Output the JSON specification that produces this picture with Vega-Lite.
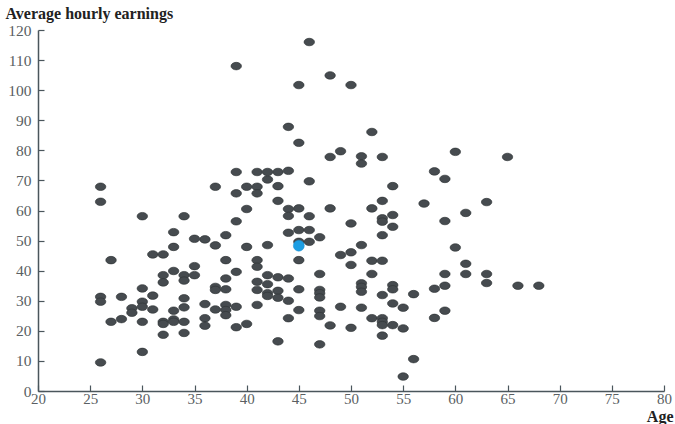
{
  "$schema": "https://vega.github.io/schema/vega-lite/v6.json",
  "width": 626,
  "height": 361,
  "autosize": "none",
  "padding": {"left": 38, "top": 30, "right": 11, "bottom": 33},
  "background": "white",
  "config": {"view": {"stroke": null}},
  "data": {"values": [
    {"age":26,"earnings":67.9,"group":"all"},{"age":26,"earnings":62.9,"group":"all"},{"age":26,"earnings":31.3,"group":"all"},{"age":26,"earnings":29.7,"group":"all"},{"age":26,"earnings":9.5,"group":"all"},
    {"age":27,"earnings":43.5,"group":"all"},{"age":27,"earnings":23.0,"group":"all"},
    {"age":28,"earnings":31.3,"group":"all"},{"age":28,"earnings":23.9,"group":"all"},
    {"age":29,"earnings":27.5,"group":"all"},{"age":29,"earnings":26.0,"group":"all"},
    {"age":30,"earnings":58.1,"group":"all"},{"age":30,"earnings":34.1,"group":"all"},{"age":30,"earnings":29.7,"group":"all"},{"age":30,"earnings":28.0,"group":"all"},{"age":30,"earnings":23.0,"group":"all"},{"age":30,"earnings":13.0,"group":"all"},
    {"age":31,"earnings":45.4,"group":"all"},{"age":31,"earnings":31.7,"group":"all"},{"age":31,"earnings":27.1,"group":"all"},
    {"age":32,"earnings":45.4,"group":"all"},{"age":32,"earnings":38.5,"group":"all"},{"age":32,"earnings":36.1,"group":"all"},{"age":32,"earnings":23.0,"group":"all"},{"age":32,"earnings":22.3,"group":"all"},{"age":32,"earnings":18.7,"group":"all"},
    {"age":33,"earnings":52.8,"group":"all"},{"age":33,"earnings":47.9,"group":"all"},{"age":33,"earnings":39.9,"group":"all"},{"age":33,"earnings":26.7,"group":"all"},{"age":33,"earnings":23.8,"group":"all"},{"age":33,"earnings":23.0,"group":"all"},
    {"age":34,"earnings":58.1,"group":"all"},{"age":34,"earnings":38.5,"group":"all"},{"age":34,"earnings":36.7,"group":"all"},{"age":34,"earnings":30.8,"group":"all"},{"age":34,"earnings":27.8,"group":"all"},{"age":34,"earnings":23.0,"group":"all"},{"age":34,"earnings":19.3,"group":"all"},
    {"age":35,"earnings":50.6,"group":"all"},{"age":35,"earnings":41.5,"group":"all"},{"age":35,"earnings":38.5,"group":"all"},
    {"age":36,"earnings":50.4,"group":"all"},{"age":36,"earnings":28.9,"group":"all"},{"age":36,"earnings":24.2,"group":"all"},{"age":36,"earnings":21.7,"group":"all"},
    {"age":37,"earnings":67.9,"group":"all"},{"age":37,"earnings":48.4,"group":"all"},{"age":37,"earnings":34.6,"group":"all"},{"age":37,"earnings":33.6,"group":"all"},{"age":37,"earnings":27.1,"group":"all"},
    {"age":38,"earnings":51.8,"group":"all"},{"age":38,"earnings":43.5,"group":"all"},{"age":38,"earnings":37.4,"group":"all"},{"age":38,"earnings":33.8,"group":"all"},{"age":38,"earnings":28.6,"group":"all"},{"age":38,"earnings":26.9,"group":"all"},{"age":38,"earnings":25.2,"group":"all"},
    {"age":39,"earnings":108.0,"group":"all"},{"age":39,"earnings":72.8,"group":"all"},{"age":39,"earnings":65.7,"group":"all"},{"age":39,"earnings":56.4,"group":"all"},{"age":39,"earnings":39.6,"group":"all"},{"age":39,"earnings":28.0,"group":"all"},{"age":39,"earnings":21.2,"group":"all"},
    {"age":40,"earnings":67.9,"group":"all"},{"age":40,"earnings":60.5,"group":"all"},{"age":40,"earnings":47.9,"group":"all"},{"age":40,"earnings":22.3,"group":"all"},
    {"age":41,"earnings":72.8,"group":"all"},{"age":41,"earnings":67.9,"group":"all"},{"age":41,"earnings":65.7,"group":"all"},{"age":41,"earnings":43.5,"group":"all"},{"age":41,"earnings":41.3,"group":"all"},{"age":41,"earnings":36.3,"group":"all"},{"age":41,"earnings":33.6,"group":"all"},{"age":41,"earnings":28.6,"group":"all"},
    {"age":42,"earnings":72.8,"group":"all"},{"age":42,"earnings":70.3,"group":"all"},{"age":42,"earnings":48.5,"group":"all"},{"age":42,"earnings":38.5,"group":"all"},{"age":42,"earnings":35.5,"group":"all"},{"age":42,"earnings":32.5,"group":"all"},{"age":42,"earnings":31.6,"group":"all"},
    {"age":43,"earnings":72.8,"group":"all"},{"age":43,"earnings":68.1,"group":"all"},{"age":43,"earnings":63.2,"group":"all"},{"age":43,"earnings":37.8,"group":"all"},{"age":43,"earnings":33.3,"group":"all"},{"age":43,"earnings":31.0,"group":"all"},{"age":43,"earnings":16.5,"group":"all"},
    {"age":44,"earnings":87.8,"group":"all"},{"age":44,"earnings":73.2,"group":"all"},{"age":44,"earnings":60.5,"group":"all"},{"age":44,"earnings":58.2,"group":"all"},{"age":44,"earnings":52.6,"group":"all"},{"age":44,"earnings":37.4,"group":"all"},{"age":44,"earnings":30.0,"group":"all"},{"age":44,"earnings":24.2,"group":"all"},
    {"age":45,"earnings":101.7,"group":"all"},{"age":45,"earnings":82.5,"group":"all"},{"age":45,"earnings":60.7,"group":"all"},{"age":45,"earnings":53.5,"group":"all"},{"age":45,"earnings":49.6,"group":"all"},{"age":45,"earnings":43.5,"group":"all"},{"age":45,"earnings":33.8,"group":"all"},{"age":45,"earnings":26.9,"group":"all"},
    {"age":46,"earnings":116.0,"group":"all"},{"age":46,"earnings":69.7,"group":"all"},{"age":46,"earnings":58.1,"group":"all"},{"age":46,"earnings":53.5,"group":"all"},{"age":46,"earnings":49.6,"group":"all"},
    {"age":47,"earnings":51.1,"group":"all"},{"age":47,"earnings":38.9,"group":"all"},{"age":47,"earnings":33.6,"group":"all"},{"age":47,"earnings":32.5,"group":"all"},{"age":47,"earnings":31.1,"group":"all"},{"age":47,"earnings":26.7,"group":"all"},{"age":47,"earnings":24.9,"group":"all"},{"age":47,"earnings":15.5,"group":"all"},
    {"age":48,"earnings":104.9,"group":"all"},{"age":48,"earnings":77.8,"group":"all"},{"age":48,"earnings":60.7,"group":"all"},{"age":48,"earnings":21.8,"group":"all"},
    {"age":49,"earnings":79.7,"group":"all"},{"age":49,"earnings":45.2,"group":"all"},{"age":49,"earnings":28.0,"group":"all"},
    {"age":50,"earnings":101.7,"group":"all"},{"age":50,"earnings":55.7,"group":"all"},{"age":50,"earnings":46.1,"group":"all"},{"age":50,"earnings":41.9,"group":"all"},{"age":50,"earnings":21.0,"group":"all"},
    {"age":51,"earnings":78.0,"group":"all"},{"age":51,"earnings":75.6,"group":"all"},{"age":51,"earnings":48.5,"group":"all"},{"age":51,"earnings":35.8,"group":"all"},{"age":51,"earnings":34.6,"group":"all"},{"age":51,"earnings":33.0,"group":"all"},{"age":51,"earnings":27.7,"group":"all"},
    {"age":52,"earnings":86.1,"group":"all"},{"age":52,"earnings":60.7,"group":"all"},{"age":52,"earnings":43.3,"group":"all"},{"age":52,"earnings":38.9,"group":"all"},{"age":52,"earnings":24.2,"group":"all"},
    {"age":53,"earnings":77.8,"group":"all"},{"age":53,"earnings":63.2,"group":"all"},{"age":53,"earnings":57.4,"group":"all"},{"age":53,"earnings":56.3,"group":"all"},{"age":53,"earnings":51.8,"group":"all"},{"age":53,"earnings":43.3,"group":"all"},{"age":53,"earnings":31.9,"group":"all"},{"age":53,"earnings":24.2,"group":"all"},{"age":53,"earnings":23.0,"group":"all"},{"age":53,"earnings":21.9,"group":"all"},{"age":53,"earnings":18.4,"group":"all"},
    {"age":54,"earnings":68.1,"group":"all"},{"age":54,"earnings":58.5,"group":"all"},{"age":54,"earnings":54.6,"group":"all"},{"age":54,"earnings":35.2,"group":"all"},{"age":54,"earnings":33.8,"group":"all"},{"age":54,"earnings":29.1,"group":"all"},{"age":54,"earnings":21.9,"group":"all"},
    {"age":55,"earnings":27.7,"group":"all"},{"age":55,"earnings":20.8,"group":"all"},{"age":55,"earnings":4.8,"group":"all"},
    {"age":56,"earnings":32.2,"group":"all"},{"age":56,"earnings":10.6,"group":"all"},
    {"age":57,"earnings":62.3,"group":"all"},
    {"age":58,"earnings":73.0,"group":"all"},{"age":58,"earnings":34.0,"group":"all"},{"age":58,"earnings":24.3,"group":"all"},
    {"age":59,"earnings":70.5,"group":"all"},{"age":59,"earnings":56.5,"group":"all"},{"age":59,"earnings":38.9,"group":"all"},{"age":59,"earnings":35.0,"group":"all"},{"age":59,"earnings":26.7,"group":"all"},
    {"age":60,"earnings":79.5,"group":"all"},{"age":60,"earnings":47.7,"group":"all"},
    {"age":61,"earnings":59.2,"group":"all"},{"age":61,"earnings":42.3,"group":"all"},{"age":61,"earnings":38.9,"group":"all"},
    {"age":63,"earnings":62.8,"group":"all"},{"age":63,"earnings":38.9,"group":"all"},{"age":63,"earnings":35.9,"group":"all"},
    {"age":65,"earnings":77.8,"group":"all"},
    {"age":66,"earnings":35.0,"group":"all"},
    {"age":68,"earnings":35.0,"group":"all"},
    {"age":45,"earnings":48.3,"group":"mean"}
  ]},
  "encoding": {
    "x": {
      "field": "age", "type": "quantitative",
      "scale": {"domain": [20, 80], "nice": false, "zero": false},
      "axis": {
        "values": [20,25,30,35,40,45,50,55,60,65,70,75,80],
        "grid": false,
        "title": "Age",
        "titleFont": "Liberation Serif", "titleFontSize": 16, "titleFontWeight": "bold", "titleColor": "#222",
        "titleAlign": "right", "titleBaseline": "alphabetic", "titleX": 635, "titleY": 30, "titleAnchor": null,
        "labelFont": "Liberation Serif", "labelFontSize": 15, "labelColor": "#5a5f63", "labelPadding": 6,
        "labelFlush": false,
        "domainColor": "#4a565c", "domainWidth": 1.5,
        "tickColor": "#4a565c", "tickWidth": 1.2, "tickSize": -6
      }
    },
    "y": {
      "field": "earnings", "type": "quantitative",
      "scale": {"domain": [0, 120], "nice": false},
      "axis": {
        "values": [0,10,20,30,40,50,60,70,80,90,100,110,120],
        "grid": false,
        "title": "Average hourly earnings",
        "titleFont": "Liberation Serif", "titleFontSize": 16, "titleFontWeight": "bold", "titleColor": "#222",
        "titleAngle": 0, "titleAlign": "left", "titleBaseline": "alphabetic", "titleX": -33, "titleY": -12, "titleAnchor": null,
        "labelFont": "Liberation Serif", "labelFontSize": 15.5, "labelColor": "#5a5f63", "labelPadding": 13,
        "labelFlush": false,
        "domainColor": "#4a565c", "domainWidth": 1.5,
        "tickColor": "#4a565c", "tickWidth": 1.2, "tickSize": -6
      }
    }
  },
  "layer": [
    {
      "transform": [{"filter": "datum.group === 'all'"}],
      "mark": {"type": "point", "filled": true, "shape": "M-1,0A1,0.72,0,1,0,1,0A1,0.72,0,1,0,-1,0Z", "size": 110, "fill": "#464b4f", "fillOpacity": 1, "stroke": "#2e3234", "strokeWidth": 0.6}
    },
    {
      "transform": [{"filter": "datum.group === 'mean'"}],
      "mark": {"type": "point", "filled": true, "shape": "circle", "size": 120, "fill": "#1c9ee3", "fillOpacity": 1, "stroke": "#1a8fd0", "strokeWidth": 0.5}
    }
  ]
}
